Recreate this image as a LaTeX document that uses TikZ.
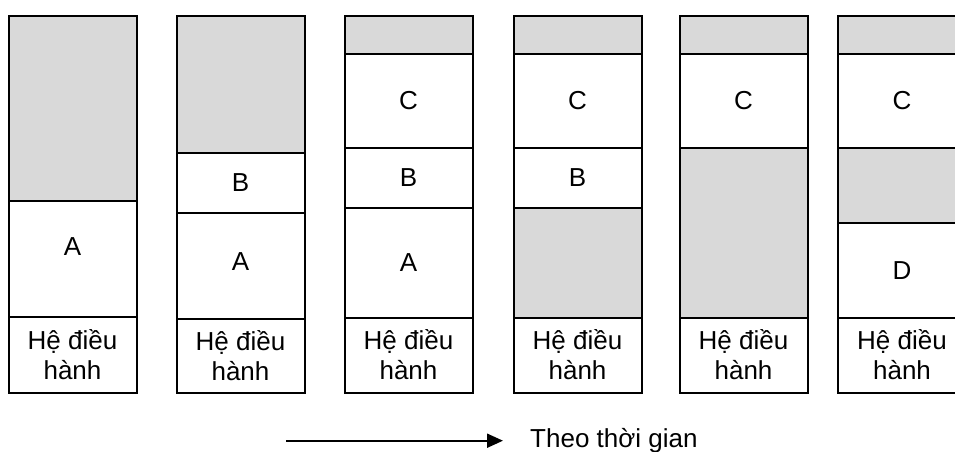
\documentclass[tikz,border=0pt]{standalone}
\usepackage{fontspec}
\setmainfont{Liberation Sans}
\usetikzlibrary{arrows.meta}
\definecolor{freegray}{HTML}{D9D9D9}
\tikzset{
  lbl/.style={font=\fontsize{26}{30}\selectfont},
  sect/.style={lbl, draw=black, line width=2pt, minimum width=128pt, inner sep=0pt, outer sep=0pt,
    anchor=north west, align=center},
  free/.style={sect, fill=freegray},
}
\newcommand{\hdh}{Hệ điều\\hành}
\begin{document}
\begin{tikzpicture}[x=1pt,y=-1pt]
\useasboundingbox (0,0) rectangle (955,452);
\clip (0,0) rectangle (955,452);
% column 1
\node[free, minimum height=185pt] (g1a) at (8.5,15.7) {};
\node[sect, minimum height=116pt] (a1) at (8.5,200.7) {};
\node[lbl] (la1) at (72.5,246.7) {A};
\node[sect, minimum height=75.8pt] (os1) at (8.5,316.7) {\hdh};
% column 2
\node[free, minimum height=137pt] (g2a) at (176.5,15.7) {};
\node[sect, minimum height=60pt] (b2) at (176.5,152.7) {B};
\node[sect, minimum height=106pt] (a2) at (176.5,212.7) {};
\node[lbl] (la2) at (240.5,261.3) {A};
\node[sect, minimum height=73.8pt] (os2) at (176.5,318.7) {\hdh};
% column 3
\node[free, minimum height=38.6pt] (g3a) at (344.5,15.7) {};
\node[sect, minimum height=93.4pt] (c3) at (344.5,54.3) {C};
\node[sect, minimum height=60.6pt] (b3) at (344.5,147.7) {B};
\node[sect, minimum height=109.4pt] (a3) at (344.5,208.3) {A};
\node[sect, minimum height=74.8pt] (os3) at (344.5,317.7) {\hdh};
% column 4
\node[free, minimum height=38.6pt] (g4a) at (513.5,15.7) {};
\node[sect, minimum height=93.4pt] (c4) at (513.5,54.3) {C};
\node[sect, minimum height=60.6pt] (b4) at (513.5,147.7) {B};
\node[free, minimum height=109.4pt] (g4b) at (513.5,208.3) {};
\node[sect, minimum height=74.8pt] (os4) at (513.5,317.7) {\hdh};
% column 5
\node[free, minimum height=38.6pt] (g5a) at (679.5,15.7) {};
\node[sect, minimum height=93.4pt] (c5) at (679.5,54.3) {C};
\node[free, minimum height=170pt] (g5b) at (679.5,147.7) {};
\node[sect, minimum height=74.8pt] (os5) at (679.5,317.7) {\hdh};
% column 6
\node[free, minimum height=38.6pt] (g6a) at (838,15.7) {};
\node[sect, minimum height=93.4pt] (c6) at (838,54.3) {C};
\node[free, minimum height=75pt] (g6b) at (838,147.7) {};
\node[sect, minimum height=95pt] (d6) at (838,222.7) {D};
\node[sect, minimum height=74.8pt] (os6) at (838,317.7) {\hdh};
% time arrow
\coordinate (as) at (286,440.7);
\coordinate (ae) at (503,440.7);
\draw[line width=2pt, -{Triangle[length=16pt,width=14pt]}] (as) -- (ae);
\node[lbl, anchor=base west, inner sep=0pt] (tl) at (530,447) {Theo thời gian};
\end{tikzpicture}
\end{document}
